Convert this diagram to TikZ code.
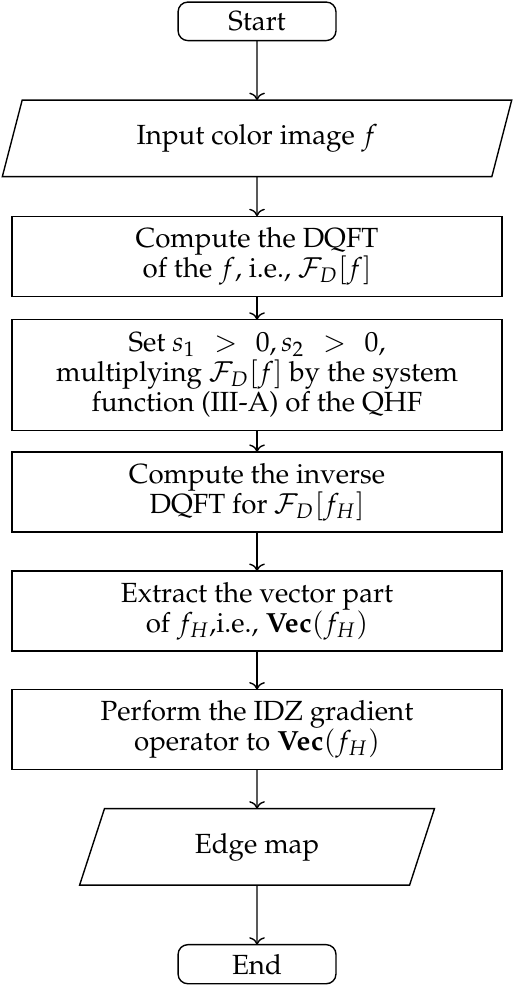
\documentclass[tikz,border=0pt]{standalone}
\usepackage[T1]{fontenc}
\usepackage{mathpazo}
\usepackage{amsmath,amssymb}
\usepackage{tikz}
\usetikzlibrary{arrows.meta,positioning,shapes.geometric,calc}

\begin{document}
\begin{tikzpicture}[
    font=\fontsize{10}{10.9}\selectfont,
    line width=0.5pt,
    every node/.style={outer sep=0pt},
    term/.style={draw, rounded corners=3.5pt, align=center, minimum width=57pt, minimum height=13.9pt, inner sep=0pt},
    io/.style={draw, trapezium, trapezium left angle=70, trapezium right angle=110, trapezium stretches=true, align=center, minimum height=27.6pt, inner sep=0pt},
    proc/.style={draw, align=center, minimum width=176.9pt, minimum height=28.9pt, inner sep=0pt},
    arrow/.style={->}
]
\useasboundingbox (-92.8pt,7.7pt) rectangle (92.8pt,-349pt);

\node[term] (start) {Start};
\node[io, minimum width=184.1pt, below=21.5pt of start] (input) {Input color image $f$};
\node[proc, below=14.3pt of input] (dqft) {Compute the DQFT\\of the $f$, i.e., $\mathcal{F}_D[f]$};
\node[proc, minimum height=39.9pt, below=8.5pt of dqft] (filt) {Set $s_1\mkern12mu{>}\mkern12mu0,s_2\mkern12mu{>}\mkern12mu0$,\\multiplying $\mathcal{F}_D[f]$ by the system\\function (III-A) of the QHF};
\node[proc, below=7.8pt of filt] (inv) {Compute the inverse\\DQFT for $\mathcal{F}_D[f_H]$};
\node[proc, below=14.1pt of inv] (vecp) {Extract the vector part\\of $f_H$,i.e., $\mathbf{Vec}(f_H)$};
\node[proc, below=13.9pt of vecp] (grad) {Perform the IDZ gradient\\operator to $\mathbf{Vec}(f_H)$};
\node[io, minimum width=128.5pt, below=14.1pt of grad] (emap) {Edge map};
\node[term, minimum height=14.1pt, below=21.5pt of emap] (stop) {End};

\draw[arrow] (start) -- (input);
\draw[arrow] (input) -- (dqft);
\draw[arrow] (dqft) -- (filt);
\draw[arrow] (filt) -- (inv);
\draw[arrow] (inv) -- (vecp);
\draw[arrow] (vecp) -- (grad);
\draw[arrow] (grad) -- (emap);
\draw[arrow] (emap) -- (stop);
\end{tikzpicture}
\end{document}
